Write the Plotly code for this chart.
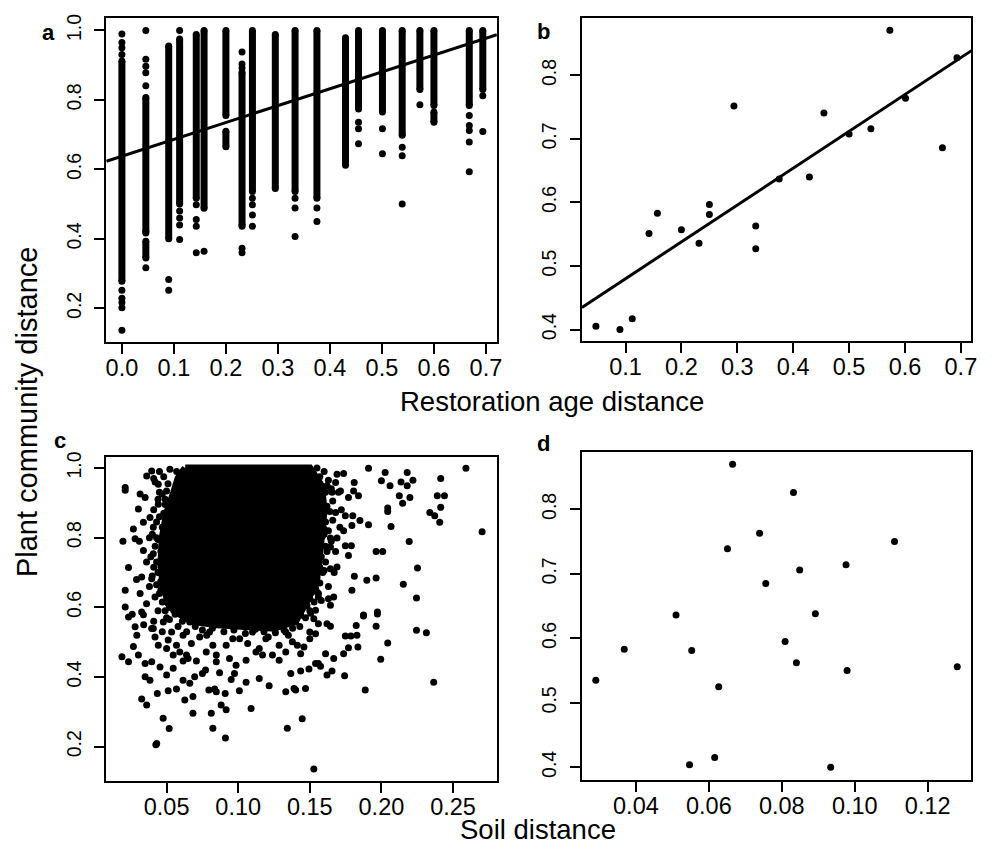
import plotly.graph_objects as go

W, H = 994, 849
OFF = 8  # default page margin of the html body
FONT = "Liberation Sans, Arial, Helvetica, sans-serif"
XTICK_SIZE = 23.5
YTICK_SIZE = 19.5
TITLE_SIZE = 27.5

# ---------------- Panel a: restoration age distance (all plot pairs) ----------------
# dense runs of overlapping points in each column: x, top y, bottom y
a_seg_x = [0.0, 0.046, 0.046, 0.090, 0.111, 0.143, 0.158, 0.200, 0.200, 0.231, 0.251,
           0.295, 0.333, 0.375, 0.430, 0.455, 0.501, 0.539, 0.573, 0.600, 0.600, 0.668, 0.694]
a_seg_top = [0.912, 0.807, 0.393, 0.955, 0.975, 0.988, 1.000, 1.000, 0.710, 0.879, 1.000,
             0.988, 1.000, 1.000, 0.979, 1.000, 1.000, 1.000, 1.000, 1.000, 0.765, 1.000, 1.000]
a_seg_bot = [0.278, 0.420, 0.345, 0.400, 0.500, 0.517, 0.488, 0.755, 0.665, 0.440, 0.536,
             0.545, 0.536, 0.517, 0.612, 0.774, 0.765, 0.698, 0.830, 0.784, 0.736, 0.784, 0.830]
# isolated points
a_pt_x = ([0.0] * 9 + [0.046] * 7 + [0.090] * 2 + [0.111] * 5 + [0.143] * 4 + [0.158]
          + [0.231] * 6 + [0.251] * 4 + [0.333] * 3 + [0.375] * 2 + [0.455] * 3 + [0.501] * 2
          + [0.539] * 3 + [0.573] + [0.668] * 5 + [0.694] * 2)
a_pt_y = ([0.990, 0.965, 0.950, 0.931, 0.252, 0.229, 0.217, 0.202, 0.137]
          + [1.000, 0.917, 0.897, 0.878, 0.841, 0.417, 0.317]
          + [0.283, 0.252]
          + [1.000, 0.480, 0.460, 0.440, 0.398]
          + [0.498, 0.456, 0.436, 0.360]
          + [0.364]
          + [0.938, 0.903, 0.892, 0.436, 0.373, 0.360]
          + [0.517, 0.498, 0.469, 0.436]
          + [0.517, 0.489, 0.407]
          + [0.489, 0.450]
          + [0.736, 0.717, 0.674]
          + [0.717, 0.645]
          + [0.664, 0.639, 0.500]
          + [0.786]
          + [0.755, 0.726, 0.712, 0.679, 0.593]
          + [0.812, 0.709])
a_fit = [0.638, 0.485]  # intercept, slope

# ---------------- Panel b: restoration age distance (site means) ----------------
b_x = [0.047, 0.090, 0.112, 0.142, 0.157, 0.200, 0.2315, 0.250, 0.250, 0.294, 0.333,
       0.333, 0.375, 0.429, 0.455, 0.500, 0.539, 0.573, 0.601, 0.667, 0.693]
b_y = [0.405, 0.400, 0.417, 0.551, 0.583, 0.557, 0.536, 0.597, 0.581, 0.752, 0.563,
       0.527, 0.637, 0.640, 0.741, 0.708, 0.716, 0.871, 0.764, 0.686, 0.828]
b_fit = [0.422, 0.580]

# ---------------- Panel c: soil distance (all plot pairs) ----------------
# outline of the solid, fully overlapping core of the cloud
c_core_x = [0.063, 0.150, 0.158, 0.160, 0.158, 0.156, 0.152, 0.146, 0.140, 0.125, 0.105,
            0.085, 0.068, 0.055, 0.048, 0.046, 0.047, 0.050, 0.055, 0.058]
c_core_y = [1.000, 1.000, 0.950, 0.880, 0.800, 0.720, 0.650, 0.600, 0.560, 0.540, 0.545,
            0.550, 0.560, 0.590, 0.650, 0.720, 0.800, 0.870, 0.930, 0.970]
c_x = [0.0396, 0.0523, 0.0361, 0.0211, 0.0211, 0.0315, 0.0303, 0.0338, 0.0268, 0.0280,
       0.0195, 0.0338, 0.0234, 0.0326, 0.0396, 0.0211, 0.0315, 0.0211, 0.0326, 0.0407,
       0.0442, 0.0476, 0.0407, 0.0384, 0.0500, 0.0442, 0.0465, 0.0500, 0.0419, 0.0511,
       0.0592, 0.0569, 0.0535, 0.0569, 0.0546, 0.0615,
       0.045, 0.048, 0.043, 0.047, 0.036, 0.044, 0.050, 0.038, 0.046, 0.053, 0.036, 0.044,
       0.050, 0.041, 0.034, 0.047, 0.052, 0.029, 0.026, 0.035, 0.049, 0.041, 0.057, 0.045,
       0.053, 0.038, 0.031,
       0.042, 0.044, 0.041, 0.043, 0.040, 0.042, 0.039, 0.041, 0.040, 0.043, 0.045, 0.047,
       0.049, 0.052, 0.058, 0.064,
       0.048, 0.051, 0.047, 0.049, 0.045, 0.047, 0.044, 0.046, 0.043, 0.045, 0.046, 0.048,
       0.050, 0.053, 0.056, 0.061,
       0.160, 0.163, 0.165, 0.166, 0.164, 0.166, 0.163, 0.165, 0.162, 0.161, 0.159, 0.157,
       0.156, 0.153, 0.150, 0.147, 0.143, 0.155,
       0.157, 0.161, 0.162, 0.161, 0.160, 0.161, 0.158, 0.157, 0.155, 0.154, 0.150, 0.148,
       0.170, 0.172, 0.171, 0.168, 0.167, 0.163, 0.158,
       0.075, 0.090, 0.105, 0.118, 0.132,
       0.070, 0.082, 0.097, 0.112, 0.126, 0.138, 0.078, 0.101, 0.121, 0.135,
       0.191, 0.259, 0.2026, 0.218, 0.200, 0.206, 0.2137, 0.218, 0.222, 0.2414, 0.2125,
       0.2199, 0.2148, 0.239, 0.244, 0.2414, 0.2338, 0.2372, 0.2407, 0.2044, 0.2044, 0.2067,
       0.2703, 0.2194, 0.1963, 0.2009, 0.2252, 0.1811, 0.1898, 0.1963, 0.2153, 0.1794,
       0.2245, 0.1875, 0.1972,
       0.169, 0.1736, 0.1528, 0.162, 0.168, 0.181, 0.1806, 0.184, 0.177, 0.1655, 0.1714,
       0.162, 0.168, 0.1748, 0.180, 0.185, 0.191, 0.1794, 0.1736, 0.169, 0.1644, 0.1748,
       0.179, 0.177, 0.1644, 0.160, 0.1586, 0.169, 0.1644, 0.160, 0.155, 0.1667, 0.163,
       0.1644, 0.156, 0.155, 0.154, 0.1506,
       0.0234, 0.0338, 0.0280, 0.0292, 0.0268, 0.0188, 0.0234, 0.0303, 0.0350, 0.0396,
       0.0350, 0.0384, 0.0326, 0.0361, 0.0435, 0.0476, 0.0518, 0.0431, 0.0425, 0.0511,
       0.0569, 0.0627, 0.0684, 0.0662, 0.0615, 0.0500, 0.0454, 0.0546, 0.0696, 0.0684,
       0.0795, 0.0835, 0.0847, 0.0909, 0.0881, 0.0916, 0.0812, 0.0823, 0.0911, 0.1090,
       0.1008, 0.1055, 0.1147, 0.1216, 0.1332, 0.1343, 0.1390, 0.0750, 0.0772, 0.0870,
       0.0974, 0.0951, 0.0615, 0.0546, 0.0650, 0.0708, 0.0847, 0.0985, 0.1055, 0.1170,
       0.1286, 0.1367, 0.0419, 0.0396, 0.0442, 0.0500, 0.0511,
       0.0407, 0.0477, 0.0535, 0.0615, 0.0592, 0.0639, 0.0673, 0.0731, 0.0800, 0.0823,
       0.0847, 0.0916, 0.0962, 0.1008, 0.1066, 0.1100, 0.1147, 0.1193, 0.1239, 0.1286,
       0.1332, 0.1378, 0.1401, 0.0731, 0.0870, 0.1078, 0.1309, 0.0662, 0.0569, 0.0777,
       0.0939, 0.1124, 0.1239, 0.1332,
       0.1436, 0.1528, 0.1560, 0.1620, 0.1644, 0.1500, 0.1540, 0.1500, 0.1413, 0.1459,
       0.1436, 0.1610, 0.1667, 0.1560, 0.1540, 0.1575, 0.1494, 0.1436, 0.1655, 0.1620,
       0.1736, 0.1770, 0.1836, 0.1748, 0.1787, 0.1829, 0.1824, 0.1875, 0.1963, 0.1972,
       0.2044, 0.1995, 0.1743, 0.1887, 0.2245, 0.2314, 0.2365, 0.1470, 0.1401, 0.1447,
       0.1528]
c_y = [0.991, 0.996, 0.977, 0.944, 0.936, 0.925, 0.882, 0.844, 0.825, 0.797,
       0.790, 0.763, 0.714, 0.687, 0.682, 0.649, 0.640, 0.601, 0.587, 0.754,
       0.896, 0.830, 0.830, 0.858, 0.934, 0.953, 0.720, 0.668, 0.630, 0.611,
       0.649, 0.735, 0.792, 0.868, 0.896, 0.963,
       0.930, 0.870, 0.800, 0.770, 0.730, 0.700, 0.740, 0.660, 0.650, 0.690, 0.610, 0.590,
       0.570, 0.560, 0.550, 0.530, 0.600, 0.680, 0.580, 0.915, 0.910, 0.970, 0.990, 0.990,
       0.850, 0.800, 0.790,
       0.960, 0.910, 0.880, 0.845, 0.810, 0.775, 0.745, 0.715, 0.690, 0.665, 0.640, 0.615,
       0.590, 0.565, 0.545, 0.530,
       0.975, 0.955, 0.925, 0.895, 0.860, 0.830, 0.795, 0.760, 0.730, 0.700, 0.675, 0.655,
       0.630, 0.600, 0.580, 0.560,
       0.990, 0.965, 0.940, 0.905, 0.875, 0.850, 0.820, 0.790, 0.760, 0.730, 0.700, 0.670,
       0.640, 0.615, 0.590, 0.570, 0.545, 1.000,
       0.975, 0.930, 0.890, 0.845, 0.810, 0.775, 0.745, 0.715, 0.685, 0.655, 0.625, 0.605,
       0.930, 0.880, 0.830, 0.760, 0.700, 0.660, 0.620,
       0.535, 0.530, 0.525, 0.530, 0.535,
       0.545, 0.540, 0.535, 0.537, 0.527, 0.540, 0.520, 0.510, 0.515, 0.520,
       0.999, 0.999, 0.987, 0.987, 0.963, 0.949, 0.960, 0.949, 0.965, 0.970, 0.920,
       0.915, 0.899, 0.920, 0.920, 0.887, 0.872, 0.863, 0.844, 0.885, 0.875, 0.832,
       0.817, 0.789, 0.760, 0.760, 0.713, 0.689, 0.678, 0.684, 0.666, 0.649,
       0.627, 0.578, 0.587,
       0.982, 0.984, 0.977, 0.949, 0.958, 0.958, 0.934, 0.920, 0.915, 0.930, 0.934,
       0.877, 0.872, 0.863, 0.863, 0.849, 0.837, 0.835, 0.820, 0.799, 0.799, 0.777,
       0.777, 0.749, 0.773, 0.825, 0.803, 0.716, 0.711, 0.706, 0.692, 0.630, 0.625,
       0.606, 0.630, 0.644, 0.592, 0.583,
       0.572, 0.579, 0.544, 0.520, 0.488, 0.458, 0.444, 0.463, 0.439, 0.444,
       0.401, 0.391, 0.337, 0.320, 0.353, 0.282, 0.252, 0.209, 0.206, 0.361,
       0.366, 0.334, 0.344, 0.382, 0.391, 0.406, 0.429, 0.425, 0.401, 0.296,
       0.363, 0.366, 0.358, 0.353, 0.320, 0.306, 0.296, 0.253, 0.225, 0.310,
       0.361, 0.385, 0.396, 0.375, 0.358, 0.253, 0.367, 0.410, 0.420, 0.412,
       0.410, 0.393, 0.446, 0.463, 0.453, 0.446, 0.444, 0.434, 0.448, 0.463,
       0.448, 0.410, 0.515, 0.539, 0.491, 0.482, 0.506,
       0.539, 0.558, 0.529, 0.520, 0.472, 0.463, 0.496, 0.515, 0.529, 0.491,
       0.463, 0.491, 0.510, 0.548, 0.496, 0.529, 0.482, 0.510, 0.548, 0.491,
       0.529, 0.501, 0.558, 0.567, 0.558, 0.567, 0.572, 0.558, 0.491, 0.472,
       0.453, 0.472, 0.463, 0.472,
       0.577, 0.567, 0.553, 0.553, 0.546, 0.529, 0.524, 0.510, 0.491, 0.486,
       0.467, 0.467, 0.453, 0.439, 0.439, 0.431, 0.423, 0.417, 0.417, 0.406,
       0.467, 0.484, 0.486, 0.518, 0.518, 0.520, 0.548, 0.575, 0.546, 0.581,
       0.498, 0.451, 0.404, 0.363, 0.534, 0.527, 0.385, 0.367, 0.363, 0.280,
       0.136]

# ---------------- Panel d: soil distance (site means) ----------------
d_x = [0.0665, 0.0832, 0.0739, 0.1109, 0.0651, 0.0976, 0.0849, 0.0756, 0.0510, 0.0892,
       0.0368, 0.0553, 0.0809, 0.0840, 0.0979, 0.1281, 0.0290, 0.0627, 0.0547, 0.0616, 0.0934]
d_y = [0.870, 0.826, 0.763, 0.750, 0.739, 0.714, 0.706, 0.685, 0.636, 0.638,
       0.583, 0.581, 0.595, 0.562, 0.550, 0.556, 0.535, 0.525, 0.404, 0.415, 0.400]

# ---------------- build figure ----------------
MS = 7
pt = dict(mode="markers", marker=dict(color="black", size=MS), hoverinfo="skip", showlegend=False)

fig = go.Figure()

# panel a
seg_x, seg_y = [], []
for x, t, b in zip(a_seg_x, a_seg_top, a_seg_bot):
    seg_x += [x, x, None]
    seg_y += [t, b, None]
fig.add_trace(go.Scatter(x=seg_x, y=seg_y, mode="lines", line=dict(color="black", width=MS),
                         xaxis="x", yaxis="y", hoverinfo="skip", showlegend=False))
fig.add_trace(go.Scatter(x=a_seg_x + a_seg_x, y=a_seg_top + a_seg_bot, xaxis="x", yaxis="y", **pt))
fig.add_trace(go.Scatter(x=a_pt_x, y=a_pt_y, xaxis="x", yaxis="y", **pt))
ax_rng = [-0.030, 0.721]
fig.add_trace(go.Scatter(x=ax_rng, y=[a_fit[0] + a_fit[1] * v for v in ax_rng], mode="lines",
                         line=dict(color="black", width=3), xaxis="x", yaxis="y",
                         hoverinfo="skip", showlegend=False))

# panel b
fig.add_trace(go.Scatter(x=b_x, y=b_y, xaxis="x2", yaxis="y2", **pt))
bx_rng = [0.022, 0.719]
fig.add_trace(go.Scatter(x=bx_rng, y=[b_fit[0] + b_fit[1] * v for v in bx_rng], mode="lines",
                         line=dict(color="black", width=3), xaxis="x2", yaxis="y2",
                         hoverinfo="skip", showlegend=False))

# panel c
fig.add_trace(go.Scatter(x=c_core_x + [c_core_x[0]], y=c_core_y + [c_core_y[0]], mode="lines",
                         fill="toself", fillcolor="black", line=dict(color="black", width=MS),
                         xaxis="x3", yaxis="y3", hoverinfo="skip", showlegend=False))
fig.add_trace(go.Scatter(x=c_x, y=c_y, xaxis="x3", yaxis="y3", **pt))

# panel d
fig.add_trace(go.Scatter(x=d_x, y=d_y, xaxis="x4", yaxis="y4", **pt))


def ax(domain, rng, vals, text, is_y=False):
    return dict(domain=domain, range=rng, tickvals=vals, ticktext=text,
                tickangle=-90 if is_y else 0,
                showline=True, mirror=True, linecolor="black", linewidth=2,
                ticks="outside", ticklen=10, tickwidth=2, tickcolor="black",
                ticklabelstandoff=6 if is_y else -6,
                showgrid=False, zeroline=False, fixedrange=True,
                tickfont=dict(family=FONT, size=YTICK_SIZE if is_y else XTICK_SIZE, color="black"))


def px_x(p):
    return (p - OFF) / W


def px_y(p):
    return 1 - (p - OFF) / H


a_xt = [0.0, 0.1, 0.2, 0.3, 0.4, 0.5, 0.6, 0.7]
a_xl = ["0.0", "0.1", "0.2", "0.3", "0.4", "0.5", "0.6", "0.7"]
y_t = [0.2, 0.4, 0.6, 0.8, 1.0]
y_l = ["0.2", "0.4", "0.6", "0.8", "1.0"]
b_xt = [0.1, 0.2, 0.3, 0.4, 0.5, 0.6, 0.7]
b_xl = ["0.1", "0.2", "0.3", "0.4", "0.5", "0.6", "0.7"]
b_yt = [0.4, 0.5, 0.6, 0.7, 0.8]
b_yl = ["0.4", "0.5", "0.6", "0.7", "0.8"]
c_xt = [0.05, 0.10, 0.15, 0.20, 0.25]
c_xl = ["0.05", "0.10", "0.15", "0.20", "0.25"]
d_xt = [0.04, 0.06, 0.08, 0.10, 0.12]
d_xl = ["0.04", "0.06", "0.08", "0.10", "0.12"]

dom_l = [px_x(106), px_x(499.3)]
dom_r = [px_x(585), px_x(977.3)]

fig.update_layout(
    width=W, height=H, margin=dict(l=0, r=0, t=0, b=0),
    paper_bgcolor="white", plot_bgcolor="white", showlegend=False,
    font=dict(family=FONT, color="black"),
    xaxis=dict(ax(dom_l, [-0.030, 0.721], a_xt, a_xl), anchor="y"),
    yaxis=dict(ax([px_y(338), px_y(12.3)], [0.104, 1.035], y_t, y_l, True), anchor="x"),
    xaxis2=dict(ax(dom_r, [0.022, 0.719], b_xt, b_xl), anchor="y2"),
    yaxis2=dict(ax([px_y(337.3), px_y(12.3)], [0.382, 0.890], b_yt, b_yl, True), anchor="x2"),
    xaxis3=dict(ax(dom_l, [0.0079, 0.2806], c_xt, c_xl), anchor="y3"),
    yaxis3=dict(ax([px_y(780), px_y(454.3)], [0.103, 1.031], y_t, y_l, True), anchor="x3"),
    xaxis4=dict(ax(dom_r, [0.0252, 0.132], d_xt, d_xl), anchor="y4"),
    yaxis4=dict(ax([px_y(779), px_y(449)], [0.381, 0.889], b_yt, b_yl, True), anchor="x4"),
)

letters = [("a", 48, 27), ("b", 546, 26), ("c", 59, 438), ("d", 546, 441)]
ann = []
for t, x, y in letters:
    ann.append(dict(text="<b>%s</b>" % t, x=px_x(x), y=px_y(y), xref="paper", yref="paper",
                    showarrow=False, xanchor="center", yanchor="middle",
                    font=dict(family=FONT, size=22, color="black")))
ann.append(dict(text="Restoration age distance", x=px_x(555), y=px_y(398), xref="paper",
                yref="paper", showarrow=False, xanchor="center", yanchor="middle",
                font=dict(family=FONT, size=TITLE_SIZE, color="black")))
ann.append(dict(text="Soil distance", x=px_x(541), y=px_y(829), xref="paper",
                yref="paper", showarrow=False, xanchor="center", yanchor="middle",
                font=dict(family=FONT, size=TITLE_SIZE, color="black")))
ann.append(dict(text="Plant community distance", x=px_x(26), y=px_y(409), xref="paper",
                yref="paper", showarrow=False, xanchor="center", yanchor="middle", textangle=-90,
                font=dict(family=FONT, size=29, color="black")))
fig.update_layout(annotations=ann)

fig.write_html("out.html")
